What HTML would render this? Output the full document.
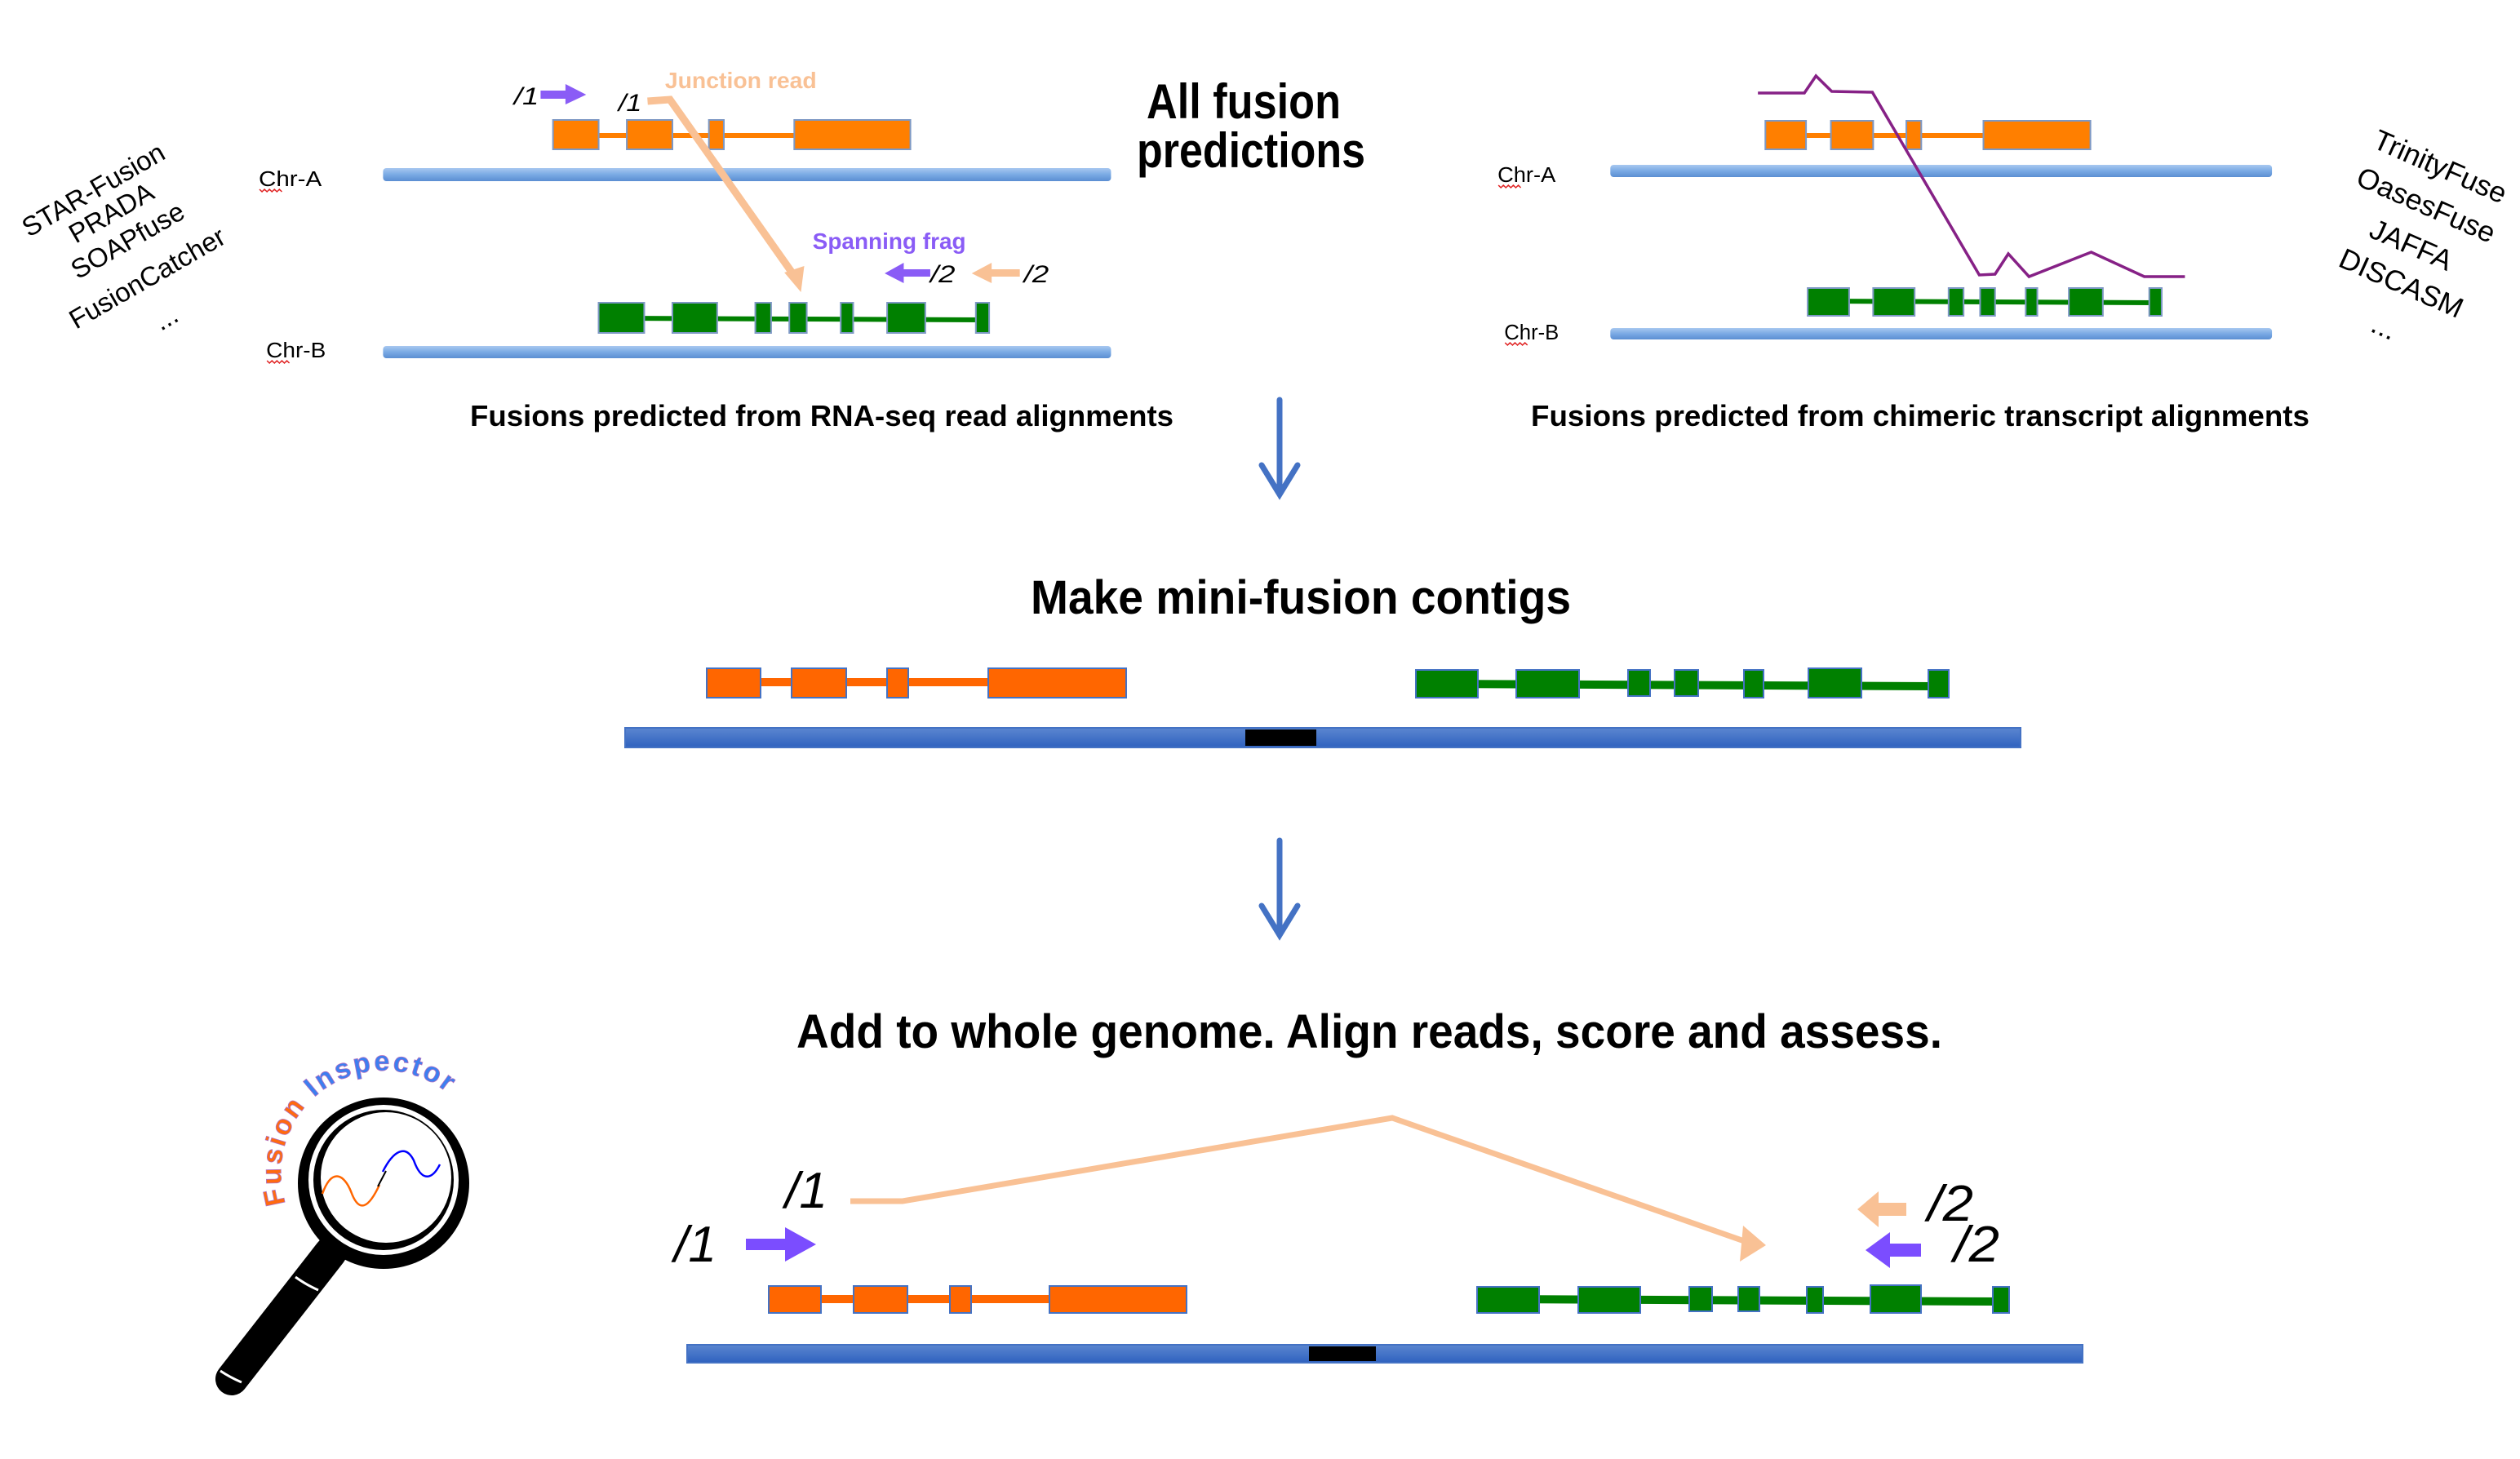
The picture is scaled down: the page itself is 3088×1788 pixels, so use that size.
<!DOCTYPE html>
<html><head><meta charset="utf-8"><style>
html,body{margin:0;padding:0;background:#fff;overflow:hidden;}
svg{display:block;}
text{font-family:"Liberation Sans",sans-serif;}
</style></head><body>
<svg width="3088" height="1788" viewBox="0 0 3088 1788" xmlns="http://www.w3.org/2000/svg">
<defs>
<linearGradient id="lb" x1="0" y1="0" x2="0" y2="1"><stop offset="0" stop-color="#a8c8f0"/><stop offset="0.5" stop-color="#7aaae4"/><stop offset="1" stop-color="#5b8ed2"/></linearGradient>
<linearGradient id="db" x1="0" y1="0" x2="0" y2="1"><stop offset="0" stop-color="#5b86d0"/><stop offset="1" stop-color="#2f62bf"/></linearGradient>
</defs>

<!-- ===== TOP LEFT ===== -->
<g font-size="33" fill="#000">
<text x="114" y="244" text-anchor="middle" transform="rotate(-30 114 232)">STAR-Fusion</text>
<text x="136" y="272" text-anchor="middle" transform="rotate(-30 136 260)">PRADA</text>
<text x="156" y="306" text-anchor="middle" transform="rotate(-30 156 294)">SOAPfuse</text>
<text x="180" y="352" text-anchor="middle" transform="rotate(-30 180 340)">FusionCatcher</text>
<text x="206" y="400" text-anchor="middle" transform="rotate(-30 206 394)">...</text>
</g>
<g transform="matrix(1.016 0 0 1 0 0)">
<text x="312" y="228" font-size="26" textLength="76" lengthAdjust="spacingAndGlyphs">Chr-A</text>
<path d="M313 232 l3 3 l3-3 l3 3 l3-3 l3 3 l3-3 l3 3 l3-3 l3 3" stroke="#e02020" fill="none" stroke-width="1.5"/>
<text x="321" y="438" font-size="26" textLength="72" lengthAdjust="spacingAndGlyphs">Chr-B</text>
<path d="M322 442 l3 3 l3-3 l3 3 l3-3 l3 3 l3-3 l3 3 l3-3 l3 3" stroke="#e02020" fill="none" stroke-width="1.5"/>

<rect x="462" y="206" width="878" height="16" rx="4" fill="url(#lb)"/>
<rect x="462" y="424" width="878" height="15" rx="4" fill="url(#lb)"/>

<line x1="690" y1="166" x2="960" y2="166" stroke="#ff7f00" stroke-width="6"/>
<g fill="#ff7f00" stroke="#7d98c4" stroke-width="2">
<rect x="667" y="147" width="55" height="36"/><rect x="756" y="147" width="55" height="36"/>
<rect x="855" y="147" width="18" height="36"/><rect x="958" y="147" width="140" height="36"/>
</g>
<line x1="740" y1="390" x2="1185" y2="392" stroke="#008000" stroke-width="6"/>
<g fill="#008000" stroke="#7d98c4" stroke-width="2">
<rect x="722" y="371" width="55" height="37"/><rect x="811" y="371" width="54" height="37"/>
<rect x="911" y="371" width="19" height="37"/><rect x="952" y="371" width="21" height="37"/>
<rect x="1014" y="371" width="15" height="37"/><rect x="1070" y="371" width="46" height="37"/>
<rect x="1177" y="371" width="16" height="37"/>
</g>
<polyline points="781,124 808,122 958,338" fill="none" stroke="#f9c195" stroke-width="9"/>
<polygon points="946,334 970,326 966,358" fill="#f9c195"/>
<text x="802" y="108" font-size="28" font-weight="bold" fill="#f9c195" textLength="183" lengthAdjust="spacingAndGlyphs">Junction read</text>
<text x="620" y="128" font-size="30" font-style="italic" textLength="30" lengthAdjust="spacingAndGlyphs">/1</text>
<polygon points="652,111 682,111 682,103 707,116 682,128 682,121 652,121" fill="#8a5cf6"/>
<text x="746" y="136" font-size="30" font-style="italic" textLength="28" lengthAdjust="spacingAndGlyphs">/1</text>
<text x="980" y="305" font-size="28" font-weight="bold" fill="#8a5cf6" textLength="185" lengthAdjust="spacingAndGlyphs">Spanning frag</text>
<polygon points="1122,330 1090,330 1090,322 1067,335 1090,347 1090,339 1122,339" fill="#8a5cf6"/>
<text x="1122" y="346" font-size="30" font-style="italic" textLength="30" lengthAdjust="spacingAndGlyphs">/2</text>
<polygon points="1230,330 1196,330 1196,322 1172,335 1196,347 1196,339 1230,339" fill="#f9c195"/>
<text x="1235" y="346" font-size="30" font-style="italic" textLength="30" lengthAdjust="spacingAndGlyphs">/2</text>
</g>

<text x="1524" y="145" font-size="60" font-weight="bold" text-anchor="middle" textLength="238" lengthAdjust="spacingAndGlyphs">All fusion</text>
<text x="1533" y="205" font-size="60" font-weight="bold" text-anchor="middle" textLength="280" lengthAdjust="spacingAndGlyphs">predictions</text>

<text x="576" y="522" font-size="36" font-weight="bold" textLength="862" lengthAdjust="spacingAndGlyphs">Fusions predicted from RNA-seq read alignments</text>
<text x="1876" y="522" font-size="36" font-weight="bold" textLength="954" lengthAdjust="spacingAndGlyphs">Fusions predicted from chimeric transcript alignments</text>

<!-- ===== TOP RIGHT ===== -->
<g transform="matrix(1.016 0 0 1 -1.8 0)">
<text x="1808" y="223" font-size="26" textLength="70" lengthAdjust="spacingAndGlyphs">Chr-A</text>
<path d="M1809 227 l3 3 l3-3 l3 3 l3-3 l3 3 l3-3 l3 3 l3-3 l3 3" stroke="#e02020" fill="none" stroke-width="1.5"/>
<text x="1816" y="416" font-size="26" textLength="66" lengthAdjust="spacingAndGlyphs">Chr-B</text>
<path d="M1817 420 l3 3 l3-3 l3 3 l3-3 l3 3 l3-3 l3 3 l3-3 l3 3" stroke="#e02020" fill="none" stroke-width="1.5"/>
<rect x="1944" y="202" width="798" height="15" rx="4" fill="url(#lb)"/>
<rect x="1944" y="402" width="798" height="14" rx="4" fill="url(#lb)"/>
<line x1="2150" y1="166" x2="2400" y2="166" stroke="#ff7f00" stroke-width="6"/>
<g fill="#ff7f00" stroke="#7d98c4" stroke-width="2">
<rect x="2131" y="148" width="49" height="35"/><rect x="2210" y="148" width="51" height="35"/>
<rect x="2301" y="148" width="18" height="35"/><rect x="2394" y="148" width="129" height="35"/>
</g>
<line x1="2200" y1="369" x2="2600" y2="371" stroke="#008000" stroke-width="6"/>
<g fill="#008000" stroke="#7d98c4" stroke-width="2">
<rect x="2182" y="353" width="50" height="34"/><rect x="2261" y="353" width="50" height="34"/>
<rect x="2352" y="353" width="18" height="34"/><rect x="2390" y="353" width="18" height="34"/>
<rect x="2445" y="353" width="14" height="34"/><rect x="2497" y="353" width="41" height="34"/>
<rect x="2594" y="353" width="15" height="34"/>
</g>
<polyline points="2122,114 2178,114 2192,93 2211,112 2260,113 2389,337 2408,336 2424,311 2449,339 2524,309 2588,339 2637,339" fill="none" stroke="#862186" stroke-width="3.5"/>
<g font-size="35" fill="#000">
<text x="2945" y="216" text-anchor="middle" transform="rotate(24 2945 204)">TrinityFuse</text>
<text x="2928" y="263" text-anchor="middle" transform="rotate(24 2928 251)">OasesFuse</text>
<text x="2910" y="312" text-anchor="middle" transform="rotate(24 2910 300)">JAFFA</text>
<text x="2898" y="359" text-anchor="middle" transform="rotate(24 2898 347)">DISCASM</text>
<text x="2875" y="412" text-anchor="middle" transform="rotate(24 2875 406)">...</text>
</g>
</g>

<!-- arrows -->
<g stroke="#4472c4" stroke-width="7" fill="none" stroke-linecap="round">
<line x1="1568" y1="490" x2="1568" y2="604"/><polyline points="1546,570 1568,606 1590,570"/>
<line x1="1568" y1="1030" x2="1568" y2="1144"/><polyline points="1546,1110 1568,1146 1590,1110"/>
</g>

<!-- ===== MIDDLE ===== -->
<text x="1594" y="752" font-size="58" font-weight="bold" text-anchor="middle" textLength="662" lengthAdjust="spacingAndGlyphs">Make mini-fusion contigs</text>
<line x1="890" y1="836" x2="1260" y2="836" stroke="#ff6600" stroke-width="10"/>
<g fill="#ff6600" stroke="#4472c4" stroke-width="2">
<rect x="866" y="819" width="66" height="36"/><rect x="970" y="819" width="67" height="36"/>
<rect x="1087" y="819" width="26" height="36"/><rect x="1211" y="819" width="169" height="36"/>
</g>
<line x1="1760" y1="838" x2="2370" y2="841" stroke="#008000" stroke-width="10"/>
<g fill="#008000" stroke="#4472c4" stroke-width="2">
<rect x="1735" y="821" width="76" height="34"/><rect x="1858" y="821" width="77" height="34"/>
<rect x="1995" y="821" width="27" height="32"/><rect x="2052" y="821" width="29" height="32"/>
<rect x="2137" y="821" width="24" height="34"/><rect x="2216" y="819" width="65" height="36"/>
<rect x="2363" y="821" width="25" height="34"/>
</g>
<rect x="766" y="892" width="1710" height="24" fill="url(#db)" stroke="#4472c4" stroke-width="2"/>
<rect x="1526" y="894" width="87" height="20" fill="#000"/>

<!-- ===== BOTTOM ===== -->
<text x="1678" y="1284" font-size="58" font-weight="bold" text-anchor="middle" textLength="1404" lengthAdjust="spacingAndGlyphs">Add to whole genome.  Align reads, score and assess.</text>

<polyline points="1042,1472 1106,1472 1706,1370 2146,1524" fill="none" stroke="#f9c195" stroke-width="7"/>
<polygon points="2136,1502 2164,1526 2132,1546" fill="#f9c195"/>
<text x="962" y="1480" font-size="62" font-style="italic" textLength="52" lengthAdjust="spacingAndGlyphs">/1</text>
<text x="826" y="1546" font-size="62" font-style="italic" textLength="52" lengthAdjust="spacingAndGlyphs">/1</text>
<polygon points="914,1518 962,1518 962,1504 1000,1525 962,1546 962,1532 914,1532" fill="#7b4dff"/>
<polygon points="2336,1474 2302,1474 2302,1460 2276,1482 2302,1504 2302,1490 2336,1490" fill="#f9c195"/>
<text x="2362" y="1496" font-size="62" font-style="italic" textLength="56" lengthAdjust="spacingAndGlyphs">/2</text>
<polygon points="2354,1524 2316,1524 2316,1510 2286,1532 2316,1554 2316,1540 2354,1540" fill="#7b4dff"/>
<text x="2394" y="1546" font-size="62" font-style="italic" textLength="56" lengthAdjust="spacingAndGlyphs">/2</text>

<line x1="960" y1="1592" x2="1300" y2="1592" stroke="#ff6600" stroke-width="10"/>
<g fill="#ff6600" stroke="#4472c4" stroke-width="2">
<rect x="942" y="1576" width="64" height="33"/><rect x="1046" y="1576" width="66" height="33"/>
<rect x="1164" y="1576" width="26" height="33"/><rect x="1286" y="1576" width="168" height="33"/>
</g>
<line x1="1830" y1="1592" x2="2450" y2="1595" stroke="#008000" stroke-width="10"/>
<g fill="#008000" stroke="#4472c4" stroke-width="2">
<rect x="1810" y="1577" width="76" height="32"/><rect x="1934" y="1577" width="76" height="32"/>
<rect x="2070" y="1577" width="28" height="30"/><rect x="2130" y="1577" width="26" height="30"/>
<rect x="2214" y="1577" width="20" height="32"/><rect x="2292" y="1575" width="62" height="34"/>
<rect x="2442" y="1577" width="20" height="32"/>
</g>
<rect x="842" y="1648" width="1710" height="22" fill="url(#db)" stroke="#4472c4" stroke-width="2"/>
<rect x="1604" y="1650" width="82" height="18" fill="#000"/>

<!-- ===== LOGO ===== -->
<g>
<line x1="405" y1="1535" x2="284" y2="1690" stroke="#000" stroke-width="40" stroke-linecap="round"/>
<path d="M362 1565 q14 10 28 16" stroke="#fff" stroke-width="3" fill="none"/>
<path d="M270 1680 q12 8 26 14" stroke="#fff" stroke-width="3" fill="none"/>
<circle cx="470" cy="1450" r="105" fill="#000"/>
<circle cx="470" cy="1446" r="92" fill="#fff"/>
<circle cx="470" cy="1446" r="86" fill="#000"/>
<circle cx="473" cy="1443" r="80" fill="#fff"/>
<path d="M395 1463 C407 1430 422 1440 430 1460 C440 1488 452 1480 465 1452" stroke="#ff6600" stroke-width="2.5" fill="none"/>
<path d="M469 1436 C482 1410 497 1402 507 1422 C517 1450 530 1445 539 1427" stroke="#0000ff" stroke-width="2.5" fill="none"/>
<line x1="463" y1="1454" x2="473" y2="1435" stroke="#000" stroke-width="2"/>
<path id="arc" d="M350 1475 A 118 118 0 0 1 590 1400" fill="none"/>
<text font-size="34" font-weight="bold" font-family="DejaVu Sans, sans-serif" letter-spacing="3" stroke="#b070c0" stroke-width="0.8"><textPath href="#arc"><tspan fill="#ff6a10">Fusion </tspan><tspan fill="#3c7ff0">Inspector</tspan></textPath></text>
</g>
</svg>
</body></html>
